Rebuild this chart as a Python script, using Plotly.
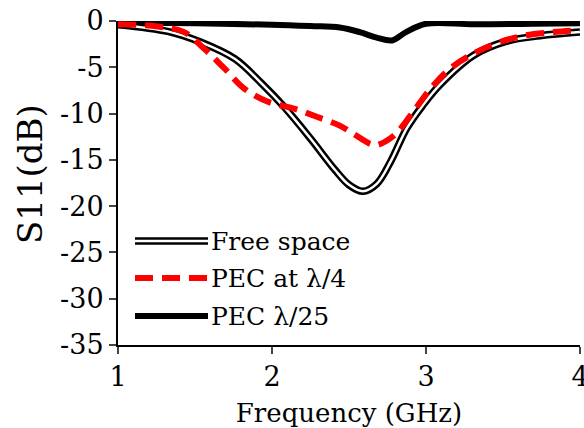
import plotly.graph_objects as go

# Frequency (GHz) and S11 (dB)
free_x = [1.0, 1.33, 1.54, 1.76, 1.93, 2.08, 2.25, 2.41, 2.5, 2.59, 2.68, 2.77, 2.875, 2.98, 3.09, 3.31, 3.52, 3.74, 4.0]
free_y = [-0.4, -1.15, -2.3, -4.1, -6.7, -9.3, -12.7, -16.1, -17.7, -18.4, -17.6, -15.2, -11.6, -9.1, -6.9, -3.7, -2.2, -1.6, -1.2]

pec4_x = [1.0, 1.26, 1.43, 1.56, 1.69, 1.82, 1.97, 2.15, 2.30, 2.44, 2.53, 2.64, 2.68, 2.79, 2.90, 3.03, 3.16, 3.31, 3.46, 3.63, 3.83, 4.0]
pec4_y = [-0.35, -0.6, -1.2, -3.0, -5.1, -7.3, -8.7, -9.5, -10.4, -11.3, -12.2, -13.3, -13.4, -12.4, -10.2, -7.3, -5.1, -3.5, -2.4, -1.6, -1.2, -1.0]

pec25_x = [1.0, 1.5, 2.0, 2.25, 2.44, 2.57, 2.68, 2.78, 2.87, 3.0, 3.31, 3.7, 4.0]
pec25_y = [-0.15, -0.25, -0.4, -0.55, -0.7, -1.2, -1.8, -2.1, -1.2, -0.3, -0.36, -0.3, -0.25]

legend_labels = ["Free space", "PEC at \u03bb/4", "PEC \u03bb/25"]
x_ticks = [1, 2, 3, 4]
y_ticks = [0, -5, -10, -15, -20, -25, -30, -35]
y_tick_text = ["0", "-5", "-10", "-15", "-20", "-25", "-30", "-35"]

FONT = "DejaVu Serif"

fig = go.Figure()
fig.add_trace(go.Scatter(x=pec25_x, y=pec25_y, mode="lines", line=dict(color="black", width=6, shape="spline"), showlegend=False))
fig.add_trace(go.Scatter(x=free_x, y=free_y, mode="lines", line=dict(color="black", width=7.5, shape="spline"), showlegend=False))
fig.add_trace(go.Scatter(x=free_x, y=free_y, mode="lines", line=dict(color="white", width=2.5, shape="spline"), showlegend=False))
fig.add_trace(go.Scatter(x=pec4_x, y=pec4_y, mode="lines", line=dict(color="#ff0000", width=6, dash="18px,9px", shape="spline"), showlegend=False))

# Manual legend (paper coordinates)
L, R, T, B = 118, 580, 21, 345
W, H = R - L, B - T
def px(x):
    return (x - L) / W
def py(y):
    return 1 - (y - T) / H

rows = [241, 278, 316]
styles = [
    [dict(color="black", width=7.5), dict(color="white", width=2.5)],
    [dict(color="#ff0000", width=6, dash="18px,9px")],
    [dict(color="black", width=6)],
]
for r, st, lab in zip(rows, styles, legend_labels):
    for s in st:
        fig.add_shape(type="line", xref="paper", yref="paper", x0=px(135), x1=px(208), y0=py(r), y1=py(r), line=s)
    fig.add_annotation(xref="paper", yref="paper", x=px(209), y=py(r), text=lab, showarrow=False,
                       xanchor="left", yanchor="middle", font=dict(family=FONT, size=25, color="black"))

# Y-axis title as a rotated annotation
fig.add_annotation(xref="paper", yref="paper", x=px(30), y=py(174), text="S11(dB)", textangle=-90,
                   showarrow=False, xanchor="center", yanchor="middle",
                   font=dict(family=FONT, size=34, color="black"))

fig.update_layout(
    width=584, height=428,
    margin=dict(l=L, r=584 - R, t=T, b=428 - B, autoexpand=False),
    paper_bgcolor="white", plot_bgcolor="white",
    font=dict(family=FONT, size=26, color="black"),
    showlegend=False,
)
fig.update_xaxes(range=[1, 4.0001], tickvals=x_ticks, ticktext=[str(v) for v in x_ticks],
                 ticks="outside", ticklen=7, tickwidth=2, ticklabeloverflow="allow", automargin=False,
                 showline=True, linecolor="black", linewidth=2, showgrid=False, zeroline=False,
                 title=dict(text="Frequency (GHz)", font=dict(family=FONT, size=26)),
                 tickfont=dict(family=FONT, size=27))
fig.update_yaxes(range=[-35, 0], tickvals=y_ticks, ticktext=y_tick_text,
                 ticks="outside", ticklen=7, tickwidth=2, automargin=False,
                 showline=True, linecolor="black", linewidth=2, showgrid=False, zeroline=False,
                 tickfont=dict(family=FONT, size=27))

fig.write_html("out.html")
